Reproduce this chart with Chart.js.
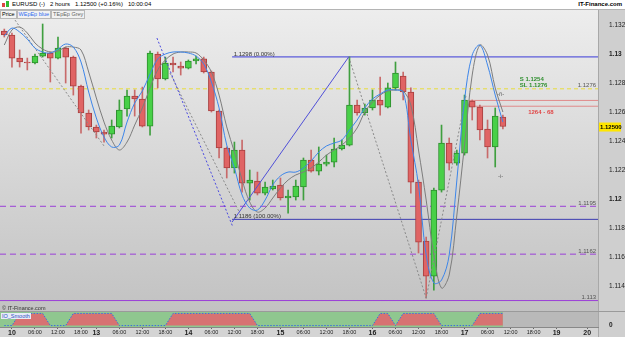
<!DOCTYPE html>
<html>
<head>
<meta charset="utf-8">
<script src="https://cdn.jsdelivr.net/npm/chart.js@4.4.1/dist/chart.umd.min.js"></script>
<style>
  body { margin:0; width:625px; height:337px; overflow:hidden; background:#d4d4d4; position:relative; font-family:"Liberation Sans", Arial, sans-serif; }
  #hdr { position:absolute; left:0; top:0; width:625px; height:10px; background:#fff; border-bottom:1px solid #b4b4b4; box-sizing:border-box; font-size:6px; line-height:9px; color:#000; }
  #hdr .ttl { position:absolute; left:12px; top:0; white-space:pre; }
  #hdr .site { position:absolute; right:3px; top:0; font-weight:bold; }
  #icon { position:absolute; left:2px; top:1px; width:8px; height:7px; }
  #icon i { position:absolute; display:block; }
  #tabs { position:absolute; left:0; top:10px; height:8px; font-size:5.5px; line-height:7px; z-index:2; }
  #tabs span { float:left; padding:0 1px; border:1px solid #b8b8b8; background:#f2f2f2; margin-right:0; }
  #mainWrap { position:absolute; left:0; top:10px; width:625px; height:301px; }
  #copy { position:absolute; left:2px; top:305px; font-size:5.5px; color:#333; z-index:2; }
  #indWrap { position:absolute; left:0; top:311px; width:625px; height:26px; }
  #ioLbl { position:absolute; left:1px; top:313px; font-size:5.5px; line-height:6px; color:#2d4fc0; background:#e8ecf8; padding:0 1px; z-index:2; }
</style>
</head>
<body>
<div id="hdr">
  <div id="icon"><i style="left:0;top:2px;width:3px;height:4px;background:#d44"></i><i style="left:4px;top:0;width:3px;height:6px;background:#3b3"></i></div>
  <div class="ttl">EURUSD (-)   2 hours   1.12500 (+0.16%)   10:00:04</div>
  <div class="site">IT-Finance.com</div>
</div>
<div id="tabs"><span>Price</span><span style="color:#2f6cf0">WEpEp blue</span><span style="color:#666">TEpEp Grey</span></div>
<div id="mainWrap"><canvas id="mainChart"></canvas></div>
<div id="copy">© IT-Finance.com</div>
<div id="ioLbl">IO_Smooth</div>
<div id="indWrap"><canvas id="ioChart"></canvas></div>
<script>
// 2-hour candles, index 0 = day 10 00:00 (weekend removed)
const candleIdx = [-1, 0, 1, 2, 3, 4, 5, 6, 7, 8, 9, 10, 11, 12, 13, 14, 15, 16, 17, 18, 19, 20,
    21, 22, 23, 24, 25, 26, 27, 28, 29, 30, 31, 32, 33, 34, 35, 36, 37, 38, 39, 40, 41, 42,
    43, 44, 45, 46, 47, 48, 49, 50, 51, 52, 53, 54, 55, 56, 57, 58, 59, 60, 61, 62, 63, 64];

const openP = [1.13159, 1.13131, 1.12972, 1.12945, 1.12938, 1.12986, 1.13007, 1.12972, 1.13041, 1.12979, 1.12779,
    1.12593, 1.12497, 1.12462, 1.12448, 1.12497, 1.12621, 1.12710, 1.12690, 1.12503, 1.13000,
    1.12828, 1.12938, 1.12917, 1.12903, 1.12952, 1.12966, 1.12876, 1.12607, 1.12352, 1.12214,
    1.12338, 1.12110, 1.12124, 1.12041, 1.12069, 1.12097, 1.12007, 1.12014, 1.12083, 1.12269,
    1.12193, 1.12241, 1.12255, 1.12345, 1.12372, 1.12648, 1.12593, 1.12628, 1.12683, 1.12634,
    1.12766, 1.12848, 1.12738, 1.12117, 1.11710, 1.11469, 1.12062, 1.12386, 1.12248, 1.12317,
    1.12676, 1.12634, 1.12483, 1.12359, 1.12566];
const highP = [1.13172, 1.13145, 1.13028, 1.12972, 1.13000, 1.13207, 1.13014, 1.13117, 1.13048, 1.12986, 1.12786,
    1.12614, 1.12510, 1.12476, 1.12545, 1.12683, 1.12752, 1.12752, 1.12772, 1.13021, 1.13014,
    1.12979, 1.12979, 1.12945, 1.12959, 1.12986, 1.12979, 1.12883, 1.12614, 1.12359, 1.12393,
    1.12407, 1.12200, 1.12186, 1.12117, 1.12131, 1.12145, 1.12062, 1.12131, 1.12283, 1.12338,
    1.12359, 1.12303, 1.12421, 1.12407, 1.12980, 1.12683, 1.12655, 1.12752, 1.12841, 1.12800,
    1.12945, 1.12876, 1.12766, 1.12131, 1.11738, 1.12076, 1.12510, 1.12421, 1.12338, 1.12717,
    1.12683, 1.12648, 1.12545, 1.12628, 1.12579];
const lowP = [1.13117, 1.12910, 1.12910, 1.12890, 1.12931, 1.12979, 1.12807, 1.12966, 1.12800, 1.12717, 1.12455,
    1.12476, 1.12421, 1.12393, 1.12421, 1.12490, 1.12572, 1.12572, 1.12497, 1.12441, 1.12766,
    1.12821, 1.12876, 1.12855, 1.12897, 1.12931, 1.12869, 1.12600, 1.12283, 1.12145, 1.12179,
    1.12048, 1.11993, 1.12028, 1.12028, 1.12062, 1.11993, 1.11903, 1.11993, 1.11993, 1.12186,
    1.12166, 1.12228, 1.12221, 1.12338, 1.12366, 1.12579, 1.12579, 1.12614, 1.12579, 1.12628,
    1.12752, 1.12683, 1.12041, 1.11628, 1.11317, 1.11372, 1.12048, 1.12200, 1.12234, 1.12303,
    1.12545, 1.12407, 1.12283, 1.12221, 1.12483];
const closeP = [1.13131, 1.12972, 1.12945, 1.12938, 1.12986, 1.13007, 1.12972, 1.13041, 1.12979, 1.12779, 1.12593,
    1.12497, 1.12462, 1.12448, 1.12503, 1.12614, 1.12710, 1.12690, 1.12503, 1.13007, 1.12828,
    1.12938, 1.12924, 1.12903, 1.12952, 1.12966, 1.12876, 1.12607, 1.12352, 1.12214, 1.12338,
    1.12110, 1.12131, 1.12041, 1.12083, 1.12090, 1.12007, 1.12021, 1.12090, 1.12269, 1.12193,
    1.12241, 1.12255, 1.12345, 1.12372, 1.12648, 1.12593, 1.12628, 1.12683, 1.12648, 1.12766,
    1.12869, 1.12738, 1.12117, 1.11703, 1.11469, 1.12062, 1.12386, 1.12248, 1.12317, 1.12683,
    1.12634, 1.12476, 1.12359, 1.12572, 1.12500];

// WEpEp blue / TEpEp Grey averages
const blueMA = [1.13124, 1.13179, 1.13152, 1.13103, 1.13041, 1.13014, 1.13007, 1.13034, 1.13069, 1.13048, 1.12945,
    1.12738, 1.12559, 1.12428, 1.12359, 1.12372, 1.12531, 1.12662, 1.12745, 1.12862, 1.12966,
    1.13000, 1.13014, 1.13014, 1.13007, 1.12986, 1.12931, 1.12807, 1.12628, 1.12372, 1.12214,
    1.12028, 1.11938, 1.11924, 1.11993, 1.12097, 1.12159, 1.12186, 1.12186, 1.12214, 1.12262,
    1.12324, 1.12366, 1.12386, 1.12407, 1.12476, 1.12545, 1.12628, 1.12690, 1.12724, 1.12752,
    1.12752, 1.12738, 1.12407, 1.12097, 1.11614, 1.11421, 1.11441, 1.11614, 1.12131, 1.12683,
    1.12993, 1.13062, 1.12924, 1.12717, 1.12531];
const greyMA = [1.13062, 1.13166, 1.13186, 1.13145, 1.13076, 1.13034, 1.13014, 1.13021, 1.13048, 1.13048, 1.13028,
    1.12876, 1.12697, 1.12531, 1.12407, 1.12338, 1.12393, 1.12510, 1.12628, 1.12766, 1.12890,
    1.12959, 1.13000, 1.13014, 1.13014, 1.13007, 1.12959, 1.12876, 1.12717, 1.12497, 1.12324,
    1.12131, 1.11979, 1.11910, 1.11938, 1.12007, 1.12076, 1.12131, 1.12166, 1.12186, 1.12214,
    1.12255, 1.12303, 1.12338, 1.12372, 1.12421, 1.12490, 1.12600, 1.12669, 1.12717, 1.12745,
    1.12752, 1.12745, 1.12648, 1.12338, 1.11993, 1.11614, 1.11386, 1.11476, 1.11890, 1.12372,
    1.12855, 1.13062, 1.12993, 1.12766, 1.12600];

const ioSmooth = [0, 0, 1, 1, 1, 1, 0, 0, 0, 1, 1, 1, 1, 1, 1, 0, 0, 0, 0, 0, 0, 0,
    1, 1, 1, 1, 1, 1, 1, 1, 1, 1, 1, 0, 0, 0, 0, 0, 0, 0, 0, 0, 0, 0, 0, 0, 0, 0, 0,
    1, 1, 0, 1, 1, 1, 1, 1, 0, 0, 0, 0, 0, 1, 1, 1, 1];

const yTicks = [1.114, 1.116, 1.118, 1.12, 1.122, 1.124, 1.126, 1.128, 1.13, 1.132];
const yTickLabels = ['1.114', '1.116', '1.118', '1.12', '1.122', '1.124', '1.126', '1.128', '1.13', '1.132'];
const xTickPos = [0, 3, 6, 9, 11, 14, 17, 20, 23, 26, 29, 32, 35, 38, 41, 44, 47, 50, 53, 56, 59, 62, 65, 68, 71, 75];
const xTickLabels = ['10', '06:00', '12:00', '18:00', '13', '06:00', '12:00', '18:00', '14', '06:00', '12:00', '18:00',
    '15', '06:00', '12:00', '18:00', '16', '06:00', '12:00', '18:00', '17', '06:00', '12:00', '18:00', '19', '20'];

// drawn studies: [startIndex, startPrice, endIndex, endPrice]
const greyTrend1 = [0.4, 1.13234, 12.0, 1.12366];
const blueTrend = [18.9, 1.13110, 28.8, 1.11807];
const greyTrend2 = [20.6, 1.12869, 29.7, 1.11903];
const fibLine = [28.7, 1.11841, 43.9, 1.12980];
const greyTrend3 = [43.9, 1.12980, 54.0, 1.11317];
const greyTrend4 = [54.0, 1.11317, 59.2, 1.12717];
const fibHigh = 1.1298, fibLow = 1.1186;
const purpleLevels = [1.1195, 1.1162];
const supportLevel = 1.113;
const yellowLevel = 1.1276;
const zoneLevels = [1.1268, 1.1264];
// fractal markers [index, price, glyph]
const fractalMarks = [[63.7, 1.12724, '-ñ-'], [63.7, 1.12159, '-i-']];

const xMin = -1.56, xMax = 76.4;
const lastPrice = closeP[closeP.length - 1];

Chart.defaults.font.family = '"Liberation Sans", Arial, sans-serif';
Chart.defaults.color = '#222';

const isUp = k => closeP[k] >= openP[k];
const pts = arr => candleIdx.map((x, k) => ({x, y: arr[k]}));
const seg = s => [{x: s[0], y: s[1]}, {x: s[2], y: s[3]}];
const hline = (p, from) => [{x: from, y: p}, {x: xMax, y: p}];

function lineSet(data, color, dash, order, width) {
    return {type: 'line', data, borderColor: color, borderDash: dash || [], borderWidth: width || 1,
        pointRadius: 0, fill: false, order, tension: 0};
}

const datasets = [
    lineSet(hline(yellowLevel, xMin), '#e8dc3a', [4, 3], 9),
    lineSet(hline(purpleLevels[0], xMin), '#9b3fd8', [6, 4], 9),
    lineSet(hline(purpleLevels[1], xMin), '#9b3fd8', [6, 4], 9),
    lineSet(hline(supportLevel, xMin), '#9b3fd8', [], 9),
    lineSet(hline(fibHigh, fibLine[0]), '#3a3ad8', [], 9),
    lineSet(hline(fibLow, fibLine[0]), '#3a3ab0', [], 9),
    lineSet(hline(zoneLevels[0], 59.5), '#e08a8a', [], 9),
    lineSet(hline(zoneLevels[1], 59.5), '#e08a8a', [], 9),
    {
        type: 'bar', data: candleIdx.map((x, k) => ({x, y: [lowP[k], highP[k]]})),
        backgroundColor: candleIdx.map((x, k) => isUp(k) ? '#3f9f3f' : '#c86a6a'),
        barThickness: 1, grouped: false, order: 6
    },
    {
        type: 'bar', data: candleIdx.map((x, k) => ({x, y: [openP[k], closeP[k]]})),
        backgroundColor: candleIdx.map((x, k) => isUp(k) ? '#48d048' : '#e06464'),
        borderColor: candleIdx.map((x, k) => isUp(k) ? '#2e8e2e' : '#a84040'),
        borderWidth: 1, borderSkipped: false, barThickness: 6, minBarLength: 1, grouped: false, order: 5
    },
    lineSet(seg(greyTrend1), '#8a8a8a', [2, 2], 3),
    lineSet(seg(blueTrend), '#4a4ae0', [2, 2], 3),
    lineSet(seg(greyTrend2), '#8a8a8a', [2, 2], 3),
    lineSet(seg(fibLine), '#5050d8', [], 3),
    lineSet(seg(greyTrend3), '#8a8a8a', [2, 2], 3),
    lineSet(seg(greyTrend4), '#8a8a8a', [2, 2], 3),
    Object.assign(lineSet(pts(greyMA), '#7d7d7d', [], 2), {tension: 0.35}),
    Object.assign(lineSet(pts(blueMA), '#3d86ea', [], 1), {tension: 0.35})
];

const notes = [
    {i: 28.9, p: fibHigh, text: '1.1298 (0.00%)', color: '#333', align: 'left', dy: -3},
    {i: 28.9, p: fibLow, text: '1.1186 (100.00%)', color: '#333', align: 'left', dy: -3},
    {i: 76.15, p: yellowLevel, text: '1.1276', color: '#555', align: 'right', dy: -3},
    {i: 76.15, p: purpleLevels[0], text: '1.1195', color: '#555', align: 'right', dy: -3},
    {i: 76.15, p: purpleLevels[1], text: '1.1162', color: '#555', align: 'right', dy: -3},
    {i: 76.15, p: supportLevel, text: '1.113', color: '#555', align: 'right', dy: -3},
    {i: 66.2, p: 1.12828, text: 'S 1.1254', color: '#2f8f2f', align: 'left', dy: 0, bold: true},
    {i: 66.2, p: 1.12786, text: 'SL 1.1276', color: '#2f8f2f', align: 'left', dy: 0, bold: true},
    {i: 67.3, p: 1.12600, text: '1264 - 68', color: '#e04848', align: 'left', dy: 0, bold: true}
];

const mainDecor = {
    id: 'mainDecor',
    beforeDraw(chart) {
        const {ctx, chartArea: a} = chart;
        const g = ctx.createLinearGradient(0, a.top, 0, a.bottom);
        g.addColorStop(0, '#ededed');
        g.addColorStop(1, '#c2c2c2');
        ctx.save();
        ctx.fillStyle = g;
        ctx.fillRect(a.left, a.top, a.right - a.left, a.bottom - a.top);
        ctx.fillStyle = '#cfcfcf';
        ctx.fillRect(a.right, 0, chart.width - a.right, chart.height);
        ctx.fillStyle = '#a8a8a8';
        ctx.fillRect(a.right, 0, 1, chart.height);
        ctx.restore();
    },
    afterDraw(chart) {
        const {ctx, scales: {x, y}} = chart;
        ctx.save();
        ctx.textBaseline = 'middle';
        notes.forEach(n => {
            ctx.font = (n.bold ? 'bold ' : '') + '6px "Liberation Sans", Arial';
            ctx.fillStyle = n.color;
            ctx.textAlign = n.align;
            ctx.fillText(n.text, x.getPixelForValue(n.i), y.getPixelForValue(n.p) + n.dy);
        });
        ctx.font = '6px "Liberation Sans", Arial';
        ctx.fillStyle = '#666';
        ctx.textAlign = 'center';
        fractalMarks.forEach(m => ctx.fillText(m[2], x.getPixelForValue(m[0]), y.getPixelForValue(m[1])));
        // last price tag
        const py = y.getPixelForValue(lastPrice);
        ctx.fillStyle = '#ffe600';
        ctx.fillRect(x.right + 1, py - 4, 22, 9);
        ctx.fillStyle = '#000';
        ctx.font = 'bold 6px "Liberation Sans", Arial';
        ctx.textAlign = 'left';
        ctx.fillText('1.12500', x.right + 2, py + 0.5);
        ctx.restore();
    }
};

new Chart(document.getElementById('mainChart'), {
    type: 'bar',
    data: {datasets},
    options: {
        animation: false, responsive: true, maintainAspectRatio: false, devicePixelRatio: 1,
        layout: {padding: 0},
        plugins: {legend: {display: false}, tooltip: {enabled: false}},
        scales: {
            x: {type: 'linear', min: xMin, max: xMax, offset: false, display: false},
            y: {
                position: 'right', min: 1.11228, max: 1.133035,
                grid: {display: false, drawTicks: true},
                border: {display: false},
                afterBuildTicks: s => { s.ticks = yTicks.map(v => ({value: v})); },
                afterFit: s => { s.width = 27; s.paddingTop = 0; s.paddingBottom = 0; },
                ticks: {
                    padding: 3,
                    callback: (v, i) => yTickLabels[i],
                    font: c => ({size: 6.5, weight: (c.tick && (c.tick.value === 1.13 || c.tick.value === 1.12)) ? 'bold' : 'normal'})
                }
            }
        }
    },
    plugins: [mainDecor]
});

const ioDecor = {
    id: 'ioDecor',
    beforeDraw(chart) {
        const {ctx, chartArea: a, scales: {x}} = chart;
        ctx.save();
        ctx.fillStyle = '#b9b9b9';
        ctx.fillRect(a.left, a.top, a.right - a.left, a.bottom - a.top);
        ctx.fillStyle = '#8fc78f';
        const endX = x.getPixelForValue(candleIdx[candleIdx.length - 1]);
        ctx.fillRect(a.left, a.top + 1, endX - a.left, a.bottom - a.top - 1);
        ctx.fillStyle = '#cfcfcf';
        ctx.fillRect(a.right, 0, chart.width - a.right, chart.height);
        ctx.fillStyle = '#a8a8a8';
        ctx.fillRect(a.right, 0, 1, chart.height);
        ctx.fillStyle = '#9a9a9a';
        ctx.fillRect(0, a.top, chart.width, 1);
        ctx.restore();
    }
};

new Chart(document.getElementById('ioChart'), {
    type: 'line',
    data: {
        datasets: [{
            data: pts(ioSmooth), fill: 'origin', backgroundColor: '#d77272',
            borderColor: '#3a6ee0', borderDash: [1.5, 1.5], borderWidth: 1, pointRadius: 0, tension: 0
        }]
    },
    options: {
        animation: false, responsive: true, maintainAspectRatio: false, devicePixelRatio: 1,
        layout: {padding: 0},
        plugins: {legend: {display: false}, tooltip: {enabled: false}},
        scales: {
            x: {
                type: 'linear', min: xMin, max: xMax, offset: false,
                grid: {drawOnChartArea: false, tickLength: 2, color: '#666'},
                border: {display: true, color: '#888'},
                afterBuildTicks: s => { s.ticks = xTickPos.map(v => ({value: v})); },
                afterFit: s => { s.height = 10; },
                ticks: {
                    padding: 0, autoSkip: false, maxRotation: 0,
                    callback: (v, i) => xTickLabels[i],
                    font: c => (xTickLabels[c.index] || '').length <= 2 ? {size: 7, weight: 'bold'} : {size: 5.5}
                }
            },
            y: {
                position: 'right', min: -0.12, max: 1.2,
                grid: {display: false}, border: {display: false},
                afterBuildTicks: s => { s.ticks = [{value: 0}]; },
                afterFit: s => { s.width = 27; s.paddingTop = 0; s.paddingBottom = 0; },
                ticks: {padding: 3, font: {size: 6.5, weight: 'bold'}, callback: () => '0'}
            }
        }
    },
    plugins: [ioDecor]
});
</script>
</body>
</html>
